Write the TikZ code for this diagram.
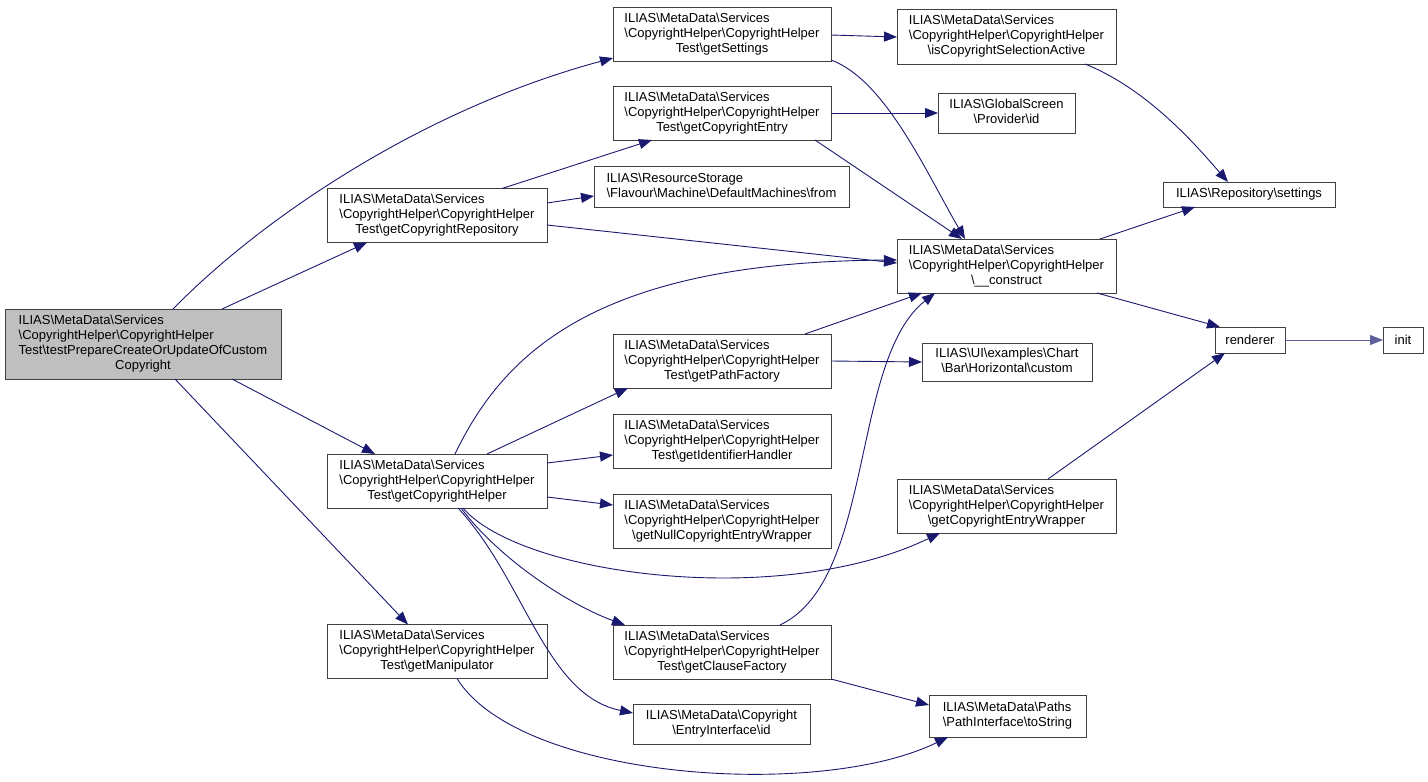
\documentclass[tikz,border=0pt]{standalone}
\usepackage{fontspec}
\setmainfont{Liberation Sans}
\usetikzlibrary{arrows.meta}
\newcommand{\bsl}{\textbackslash}
\newcommand{\tlines}[2]{\begin{tabular}{@{}l@{}}#1\\\multicolumn{1}{@{}c@{}}{#2}\end{tabular}}
\definecolor{edgeblue}{HTML}{191970}
\definecolor{boxline}{HTML}{404040}
\tikzset{
  fn/.style={draw=boxline, line width=1pt, fill=white, inner sep=0pt, outer sep=0pt,
    font=\fontsize{13}{15}\selectfont, minimum width=#1, minimum height=54pt},
  fn/.default=218pt,
  cur/.style={fn=276pt, fill=black!25, minimum height=70pt},
  call/.style={draw=edgeblue, line width=0.9pt, -{Triangle[length=13pt,width=10pt]}},
}
\begin{document}
\begin{tikzpicture}[x=1pt,y=-1pt]
\useasboundingbox (0,0) rectangle (1428,782);
% nodes
\node[cur] (main) at (143,344) {\tlines{ILIAS\bsl MetaData\bsl Services\\\bsl CopyrightHelper\bsl CopyrightHelper\\Test\bsl testPrepareCreateOrUpdateOfCustom}{Copyright}};
\node[fn=220pt] (repo) at (437,215.5) {\tlines{ILIAS\bsl MetaData\bsl Services\\\bsl CopyrightHelper\bsl CopyrightHelper}{Test\bsl getCopyrightRepository}};
\node[fn=220pt] (helper) at (437,481) {\tlines{ILIAS\bsl MetaData\bsl Services\\\bsl CopyrightHelper\bsl CopyrightHelper}{Test\bsl getCopyrightHelper}};
\node[fn=220pt] (manip) at (437,651.5) {\tlines{ILIAS\bsl MetaData\bsl Services\\\bsl CopyrightHelper\bsl CopyrightHelper}{Test\bsl getManipulator}};
\node[fn] (settingsT) at (722,34) {\tlines{ILIAS\bsl MetaData\bsl Services\\\bsl CopyrightHelper\bsl CopyrightHelper}{Test\bsl getSettings}};
\node[fn] (entry) at (722,113) {\tlines{ILIAS\bsl MetaData\bsl Services\\\bsl CopyrightHelper\bsl CopyrightHelper}{Test\bsl getCopyrightEntry}};
\node[fn=255pt, minimum height=41pt] (from) at (721.5,186.5) {\tlines{ILIAS\bsl ResourceStorage}{\bsl Flavour\bsl Machine\bsl DefaultMachines\bsl from}};
\node[fn] (pathF) at (722,361) {\tlines{ILIAS\bsl MetaData\bsl Services\\\bsl CopyrightHelper\bsl CopyrightHelper}{Test\bsl getPathFactory}};
\node[fn] (identH) at (722,441) {\tlines{ILIAS\bsl MetaData\bsl Services\\\bsl CopyrightHelper\bsl CopyrightHelper}{Test\bsl getIdentifierHandler}};
\node[fn] (nullW) at (722,521) {\tlines{ILIAS\bsl MetaData\bsl Services\\\bsl CopyrightHelper\bsl CopyrightHelper}{\bsl getNullCopyrightEntryWrapper}};
\node[fn] (clauseF) at (722,652) {\tlines{ILIAS\bsl MetaData\bsl Services\\\bsl CopyrightHelper\bsl CopyrightHelper}{Test\bsl getClauseFactory}};
\node[fn=177pt, minimum height=40pt] (eid) at (721.5,724) {\tlines{ILIAS\bsl MetaData\bsl Copyright}{\bsl EntryInterface\bsl id}};
\node[fn=219pt, minimum height=55pt] (selAct) at (1006.5,36.5) {\tlines{ILIAS\bsl MetaData\bsl Services\\\bsl CopyrightHelper\bsl CopyrightHelper}{\bsl isCopyrightSelectionActive}};
\node[fn=137pt, minimum height=40pt] (gsid) at (1006.5,113) {\tlines{ILIAS\bsl GlobalScreen}{\bsl Provider\bsl id}};
\node[fn=219pt] (construct) at (1006.5,266) {\tlines{ILIAS\bsl MetaData\bsl Services\\\bsl CopyrightHelper\bsl CopyrightHelper}{\bsl \_\_construct}};
\node[fn=170pt, minimum height=38pt] (custom) at (1007,362) {\tlines{ILIAS\bsl UI\bsl examples\bsl Chart}{\bsl Bar\bsl Horizontal\bsl custom}};
\node[fn=219pt] (wrapper) at (1006.5,506) {\tlines{ILIAS\bsl MetaData\bsl Services\\\bsl CopyrightHelper\bsl CopyrightHelper}{\bsl getCopyrightEntryWrapper}};
\node[fn=157pt, minimum height=42pt] (toString) at (1007.5,716) {\tlines{ILIAS\bsl MetaData\bsl Paths}{\bsl PathInterface\bsl toString}};
\node[fn=172pt, minimum height=25pt] (repSettings) at (1249,194.5) {ILIAS\bsl Repository\bsl settings};
\node[fn=70pt, minimum height=26pt] (renderer) at (1250,340) {renderer};
\node[fn=40pt, minimum height=26pt] (init) at (1403,340) {init};
% edges
\draw[call] (main.north -| 173,0) .. controls (260,220) and (420,110) .. (settingsT.south west |- 0,58);
\draw[call] (main.north -| 222,0) -- (repo.south -| 367,0);
\draw[call] (main.south -| 232,0) -- (helper.north -| 375,0);
\draw[call] (main.south -| 175,0) -- (manip.north -| 408,0);
\draw[call] (repo.north -| 502,0) -- (entry.south -| 652,0);
\draw[call] (repo.east |- 0,203) -- (from.west |- 0,196);
\draw[call] (repo.east |- 0,225) -- (construct.west |- 0,263);
\draw[call] (helper.north -| 455,0) .. controls (505,350) and (600,262) .. (construct.west |- 0,260);
\draw[call] (helper.north -| 487,0) -- (pathF.south -| 628,0);
\draw[call] (helper.east |- 0,463) -- (identH.west |- 0,455);
\draw[call] (helper.east |- 0,497) -- (nullW.west |- 0,505);
\draw[call] (helper.south -| 463,0) .. controls (520,575) and (780,610) .. (wrapper.south -| 940,0);
\draw[call] (helper.south -| 461,0) .. controls (500,560) and (570,605) .. (clauseF.north -| 625,0);
\draw[call] (helper.south -| 458,0) .. controls (525,580) and (545,695) .. (eid.west |- 0,713);
\draw[call] (manip.south -| 457,0) .. controls (520,780) and (820,800) .. (toString.south -| 948,0);
\draw[call] (settingsT.east |- 0,35) -- (selAct.west |- 0,37);
\draw[call] (settingsT.east |- 0,60) .. controls (885,80) and (925,170) .. (construct.north -| 965,0);
\draw[call] (entry.east |- 0,113) -- (gsid.west |- 0,113);
\draw[call] (entry.south -| 815,0) -- (construct.north -| 962,0);
\draw[call] (pathF.north -| 805,0) -- (construct.south -| 922,0);
\draw[call] (pathF.east |- 0,361) -- (custom.west |- 0,362);
\draw[call] (clauseF.north -| 780,0) .. controls (875,580) and (850,360) .. (construct.south -| 935,0);
\draw[call] (clauseF.south east) -- (toString.west |- 0,705);
\draw[call] (selAct.south -| 1085,0) .. controls (1150,90) and (1200,150) .. (repSettings.north -| 1228,0);
\draw[call] (construct.north -| 1100,0) -- (repSettings.south -| 1195,0);
\draw[call] (construct.south -| 1097,0) -- (renderer.north -| 1220,0);
\draw[call] (wrapper.north -| 1048,0) -- (renderer.south -| 1225,0);
\draw[call, draw=edgeblue!70] (renderer) -- (init);
\end{tikzpicture}
\end{document}
